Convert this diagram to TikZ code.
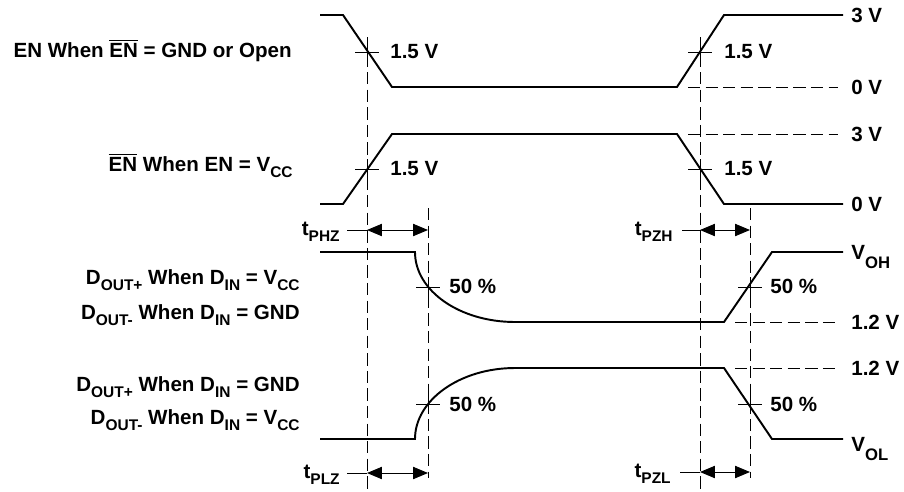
\documentclass[tikz,border=0pt]{standalone}
\usepackage{fontspec}
\setmainfont{Liberation Sans}
\usetikzlibrary{arrows.meta}
\newcommand{\lowsub}[1]{\raisebox{-0.3em}{\fontsize{8.8}{9}\selectfont #1}}
\newcommand{\notEN}{$\overline{\hbox{EN}}$}
\begin{document}
\begin{tikzpicture}[
x=0.02cm,y=-0.02cm,
wave/.style={draw,line width=1.1pt},
guide/.style={draw,line width=0.55pt,dash pattern=on 7pt off 3pt},
tick/.style={draw,line width=0.55pt},
span/.style={draw,line width=0.55pt,{Triangle[length=8.5pt,width=7pt]}-{Triangle[length=8.5pt,width=7pt]}},
lbl/.style={font=\fontsize{11.7}{14}\selectfont\bfseries,inner sep=0pt},
]
\useasboundingbox (0,0) rectangle (904,491);
% reference lines
\path[guide]
    (367,37) -- (367,490)
    (700,37) -- (700,490)
    (428,208) -- (428,478)
    (750,208) -- (750,478)
    (688,87) -- (838,87)
    (688,134) -- (838,134)
    (735,322) -- (838,322)
    (735,368) -- (838,368);
% waveforms
\path[wave]
    (320,15) -- (343,15) -- (392,87) -- (677,87) -- (724,15) -- (843,15)
    (320,204) -- (343,204) -- (392,134) -- (677,134) -- (724,204) -- (843,204)
    (320,252) -- (415,252) .. controls (415,291) and (460,322) .. (515,322)
        -- (724,322) -- (772,252) -- (843,252)
    (320,439) -- (415,439) .. controls (415,400) and (460,368) .. (515,368)
        -- (724,368) -- (772,439) -- (843,439);
% crossing marks
\foreach \x/\y in {367/52,700/52,367/169,700/169,428/287,750/287,428/404,750/404}
    \path[tick] (\x-12,\y) -- (\x+12,\y) (\x,\y-10) -- (\x,\y+10);
% signal names
\node[lbl,anchor=base east] (en) at (292,57) {EN When \notEN{} = GND or Open};
\node[lbl,anchor=base east] (enb) at (293,171) {\notEN{} When EN = V\lowsub{CC}};
\node[lbl,anchor=base east] (dhi1) at (300,284) {D\lowsub{OUT+} When D\lowsub{IN} = V\lowsub{CC}};
\node[lbl,anchor=base east] (dhi2) at (300,319) {D\lowsub{OUT-} When D\lowsub{IN} = GND};
\node[lbl,anchor=base east] (dlo1) at (300,391) {D\lowsub{OUT+} When D\lowsub{IN} = GND};
\node[lbl,anchor=base east] (dlo2) at (300,424) {D\lowsub{OUT-} When D\lowsub{IN} = V\lowsub{CC}};
% levels
\node[lbl,anchor=base west] (hi1) at (851,22) {3 V};
\node[lbl,anchor=base west] (lo1) at (851,94) {0 V};
\node[lbl,anchor=base west] (hi2) at (851,141) {3 V};
\node[lbl,anchor=base west] (lo2) at (851,211) {0 V};
\node[lbl,anchor=base west] (voh) at (851,259) {V\raisebox{-0.45em}{\fontsize{9.5}{10}\selectfont OH}};
\node[lbl,anchor=base west] (mid1) at (851,329) {1.2 V};
\node[lbl,anchor=base west] (mid2) at (851,375) {1.2 V};
\node[lbl,anchor=base west] (vol) at (851,451) {V\raisebox{-0.45em}{\fontsize{9.5}{10}\selectfont OL}};
% thresholds
\node[lbl,anchor=base west] (th1) at (390,58) {1.5 V};
\node[lbl,anchor=base west] (th2) at (724,58) {1.5 V};
\node[lbl,anchor=base west] (th3) at (390,175) {1.5 V};
\node[lbl,anchor=base west] (th4) at (724,175) {1.5 V};
\node[lbl,anchor=base west] (pc1) at (449,293) {50 \%};
\node[lbl,anchor=base west] (pc2) at (770,293) {50 \%};
\node[lbl,anchor=base west] (pc3) at (449,411) {50 \%};
\node[lbl,anchor=base west] (pc4) at (770,411) {50 \%};
% delays
\node[lbl,anchor=base east] (tphz) at (340,235) {t\lowsub{PHZ}};
\node[lbl,anchor=base east] (tpzh) at (673,235) {t\lowsub{PZH}};
\node[lbl,anchor=base east] (tplz) at (340,478) {t\lowsub{PLZ}};
\node[lbl,anchor=base east] (tpzl) at (671,477) {t\lowsub{PZL}};
\path[tick]
    (347,230) -- (367,230)
    (682,230) -- (700,230)
    (347,473) -- (367,473)
    (680,472) -- (700,472);
\path[span] (367,230) -- (428,230);
\path[span] (700,230) -- (750,230);
\path[span] (367,473) -- (428,473);
\path[span] (700,472) -- (750,472);
\end{tikzpicture}
\end{document}
